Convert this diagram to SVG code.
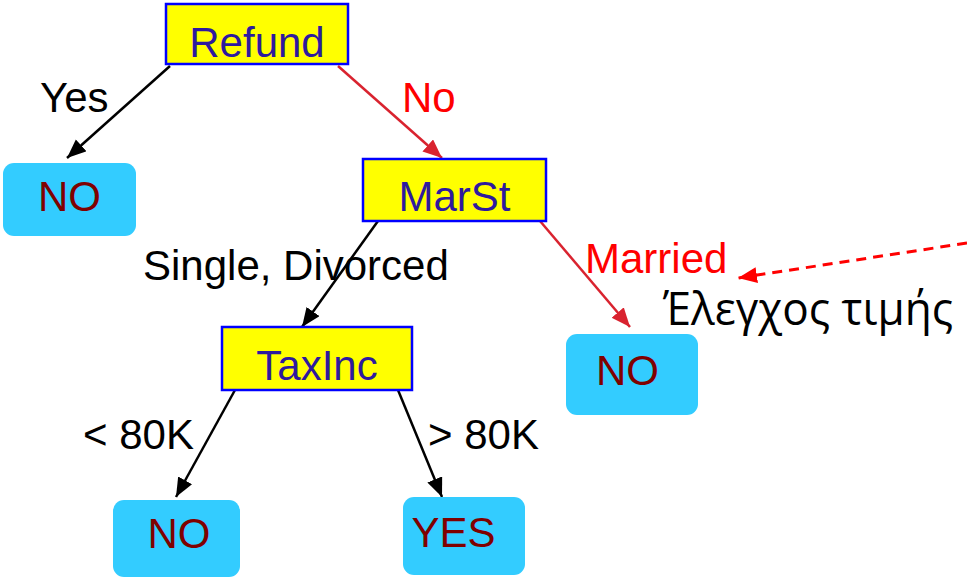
<svg xmlns="http://www.w3.org/2000/svg" width="967" height="578" viewBox="0 0 967 578">
  <style>
    .test rect { fill: #ffff00; stroke: #0000ff; stroke-width: 2.5; }
    .test text { font-family: "Liberation Sans", Arial, sans-serif; font-size: 42px; fill: #2e1a9e; text-anchor: middle; }
    .leaf rect { fill: #33ccff; stroke: none; }
    .leaf text { font-family: "Liberation Sans", Arial, sans-serif; font-size: 42px; fill: #800000; text-anchor: middle; }
    .edge { fill: none; stroke-width: 2.5; }
    .black { stroke: #000000; marker-end: url(#arrowBlack); }
    .red { stroke: #d9232f; marker-end: url(#arrowRed); }
    .note { stroke: #ff0000; stroke-width: 3; stroke-dasharray: 10 7; fill: none; marker-end: url(#arrowNote); }
    .lbl { font-family: "Liberation Sans", Arial, sans-serif; font-size: 42px; fill: #000000; }
    .lbl.hot { fill: #ff0000; }
  </style>
  <defs>
    <marker id="arrowBlack" markerUnits="userSpaceOnUse" markerWidth="20" markerHeight="18" refX="19" refY="8" orient="auto">
      <path d="M0,0 L19,8 L0,16 Z" fill="#000000"/>
    </marker>
    <marker id="arrowRed" markerUnits="userSpaceOnUse" markerWidth="20" markerHeight="18" refX="19" refY="8" orient="auto">
      <path d="M0,0 L19,8 L0,16 Z" fill="#d9232f"/>
    </marker>
    <marker id="arrowNote" markerUnits="userSpaceOnUse" markerWidth="20" markerHeight="18" refX="19" refY="8" orient="auto">
      <path d="M0,0 L19,8 L0,16 Z" fill="#ff0000"/>
    </marker>
  </defs>

  <!-- connectors -->
  <g id="connectors">
    <line class="edge black" x1="170" y1="66" x2="67" y2="158"/>
    <line class="edge red" x1="338" y1="66" x2="442" y2="158"/>
    <line class="edge black" x1="378" y1="221" x2="302" y2="327"/>
    <line class="edge red" x1="540" y1="221" x2="630" y2="327"/>
    <line class="edge black" x1="235" y1="390" x2="176" y2="497"/>
    <line class="edge black" x1="398" y1="390" x2="442" y2="497"/>
    <line class="note" x1="967" y1="243" x2="738" y2="278"/>
  </g>

  <!-- edge labels -->
  <g id="labels">
    <text class="lbl" x="40" y="112">Yes</text>
    <text class="lbl hot" x="402" y="112">No</text>
    <text class="lbl" x="143" y="280">Single, Divorced</text>
    <text class="lbl hot" x="585" y="273">Married</text>
    <text class="lbl" x="83" y="449">&lt; 80K</text>
    <text class="lbl" x="428" y="449">&gt; 80K</text>
  </g>

  <!-- annotation -->
  <g id="note">
    <text x="663" y="325" font-family="'Open Sans', 'Noto Sans', sans-serif" font-size="46" fill="#000000" textLength="290" lengthAdjust="spacingAndGlyphs">Έλεγχος τιμής</text>
  </g>

  <!-- test nodes -->
  <g id="refund" class="test">
    <rect x="166" y="4" width="182" height="60"/>
    <text x="257" y="57">Refund</text>
  </g>
  <g id="marst" class="test">
    <rect x="363" y="159" width="183" height="62"/>
    <text x="454.5" y="211">MarSt</text>
  </g>
  <g id="taxinc" class="test">
    <rect x="222" y="327" width="190" height="63"/>
    <text x="317" y="380">TaxInc</text>
  </g>

  <!-- leaf nodes -->
  <g id="leaf-refund-yes" class="leaf">
    <rect x="3" y="163" width="133" height="73" rx="11"/>
    <text x="69.5" y="211">NO</text>
  </g>
  <g id="leaf-married" class="leaf">
    <rect x="566" y="334" width="132" height="81" rx="11"/>
    <text x="627.5" y="385">NO</text>
  </g>
  <g id="leaf-low-income" class="leaf">
    <rect x="113" y="500" width="127" height="77" rx="11"/>
    <text x="179" y="548">NO</text>
  </g>
  <g id="leaf-high-income" class="leaf">
    <rect x="403" y="497" width="122" height="78" rx="11"/>
    <text x="453.5" y="547">YES</text>
  </g>
</svg>
